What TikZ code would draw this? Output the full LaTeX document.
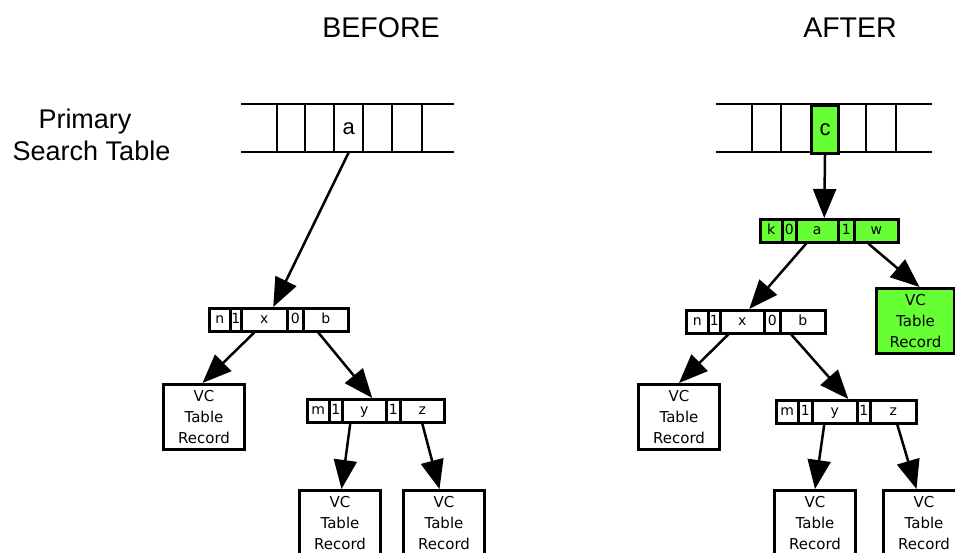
\documentclass[tikz,border=0pt]{standalone}
\usepackage{fontspec}
\setmainfont{Liberation Sans}
\newfontfamily\boxfont{DejaVu Sans}
\usetikzlibrary{arrows.meta}
\definecolor{lime}{RGB}{102,255,51}

\tikzset{
  heading/.style={font=\fontsize{28.5}{30}\selectfont, anchor=base, inner sep=0pt},
  sidelabel/.style={font=\fontsize{27}{32}\selectfont, anchor=base, inner sep=0pt},
  rule/.style={line width=2.5pt},
  slot/.style={anchor=north west, minimum height=48pt, inner sep=0pt,
    font=\fontsize{22}{24}\selectfont},
  cell/.style={draw, line width=2.5pt, anchor=north west, minimum height=23pt,
    inner sep=0pt, text height=11pt, text depth=3pt,
    font=\boxfont\fontsize{14}{16}\selectfont},
  record/.style={draw, line width=3pt, anchor=north west, minimum width=81pt,
    minimum height=65pt, inner sep=0pt, align=center,
    font=\boxfont\fontsize{15}{21}\selectfont},
  link/.style={line width=2.5pt, -{Triangle[length=29pt,width=23pt]}},
  added/.style={fill=lime},
}

\begin{document}
\begin{tikzpicture}[x=1pt, y=-1pt]
\useasboundingbox (0,0) rectangle (955,552);
\fill[white] (0,0) rectangle (955,552);
\clip (0,0) rectangle (955,552);

% headings
\node[heading] (hbefore) at (381,37) {BEFORE};
\node[heading] (hafter) at (850,37) {AFTER};
\node[sidelabel] (lprimary) at (85,128) {Primary};
\node[sidelabel] (lsearch) at (91.5,160) {Search Table};

% ---------- BEFORE ----------
% primary search table
\draw[rule] (241,104) -- (454,104) (241,152) -- (454,152);
\foreach \x in {277,305,334,363,392,422}
  \draw[rule] (\x,104) -- (\x,152);
\node[slot, minimum width=29pt] (ta) at (334,104) {a};

% record n|1|x|0|b
\node[cell, minimum width=21pt] (bn1) at (208,307) {n};
\node[cell, minimum width=11pt] (bn2) at (229,307) {1};
\node[cell, minimum width=46pt] (bn3) at (240,307) {x};
\node[cell, minimum width=16pt] (bn4) at (286,307) {0};
\node[cell, minimum width=45pt] (bn5) at (302,307) {b};

% record m|1|y|1|z
\node[cell, minimum width=22pt] (bm1) at (306,398) {m};
\node[cell, minimum width=13pt] (bm2) at (328,398) {1};
\node[cell, minimum width=44pt] (bm3) at (341,398) {y};
\node[cell, minimum width=14pt] (bm4) at (385,398) {1};
\node[cell, minimum width=44pt] (bm5) at (399,398) {z};

% VC table records
\node[record] (br1) at (162,383) {VC\\Table\\Record};
\node[record] (br2) at (298,489) {VC\\Table\\Record};
\node[record] (br3) at (402,489) {VC\\Table\\Record};

% links
\draw[link] (ta.south) -- ([xshift=9pt]bn3.north);
\draw[link] ([xshift=-10pt]bn3.south) -- ([xshift=-1.5pt]br1.north);
\draw[link] ([xshift=-7.5pt]bn5.south) -- ([xshift=8pt]bm3.north);
\draw[link] ([xshift=-14pt]bm3.south) -- ([xshift=1.5pt]br2.north);
\draw[link] (bm5.south) -- ([xshift=-4.5pt]br3.north);

% ---------- AFTER ----------
% primary search table
\draw[rule] (716,104) -- (932,104) (716,152) -- (932,152);
\foreach \x in {752,781,866,896}
  \draw[rule] (\x,104) -- (\x,152);
\node[slot, draw, added, line width=3pt, minimum width=27pt] (tc) at (810,104) {c};

% new record k|0|a|1|w
\node[cell, added, minimum width=22pt] (ak1) at (759,218) {k};
\node[cell, added, minimum width=14pt] (ak2) at (781,218) {0};
\node[cell, added, minimum width=42pt] (ak3) at (795,218) {a};
\node[cell, added, minimum width=16pt] (ak4) at (837,218) {1};
\node[cell, added, minimum width=44pt] (ak5) at (853,218) {w};

% record n|1|x|0|b
\node[cell, minimum width=22pt] (an1) at (685,309) {n};
\node[cell, minimum width=12pt] (an2) at (707,309) {1};
\node[cell, minimum width=44pt] (an3) at (719,309) {x};
\node[cell, minimum width=16pt] (an4) at (763,309) {0};
\node[cell, minimum width=45pt] (an5) at (779,309) {b};

% record m|1|y|1|z
\node[cell, minimum width=22pt] (am1) at (775,399) {m};
\node[cell, minimum width=14pt] (am2) at (797,399) {1};
\node[cell, minimum width=45pt] (am3) at (811,399) {y};
\node[cell, minimum width=13pt] (am4) at (856,399) {1};
\node[cell, minimum width=46pt] (am5) at (869,399) {z};

% VC table records
\node[record, added, minimum width=78pt] (ar0) at (875,287) {VC\\Table\\Record};
\node[record] (ar1) at (637,383) {VC\\Table\\Record};
\node[record] (ar2) at (773,489) {VC\\Table\\Record};
\node[record] (ar3) at (882,489) {VC\\Table\\Record};

% links
\draw[link] (tc.south) -- ([xshift=7pt]ak3.north);
\draw[link] ([xshift=-11pt]ak3.south) -- ([xshift=7pt]an3.north);
\draw[link] ([xshift=-8pt]ak5.south) -- ([xshift=4pt]ar0.north);
\draw[link] ([xshift=-14pt]an3.south) -- (ar1.north);
\draw[link] ([xshift=-11.5pt]an5.south) -- ([xshift=13.5pt]am3.north);
\draw[link] ([xshift=-10.5pt]am3.south) -- (ar2.north);
\draw[link] ([xshift=4pt]am5.south) -- ([xshift=-7.5pt]ar3.north);
\end{tikzpicture}
\end{document}
